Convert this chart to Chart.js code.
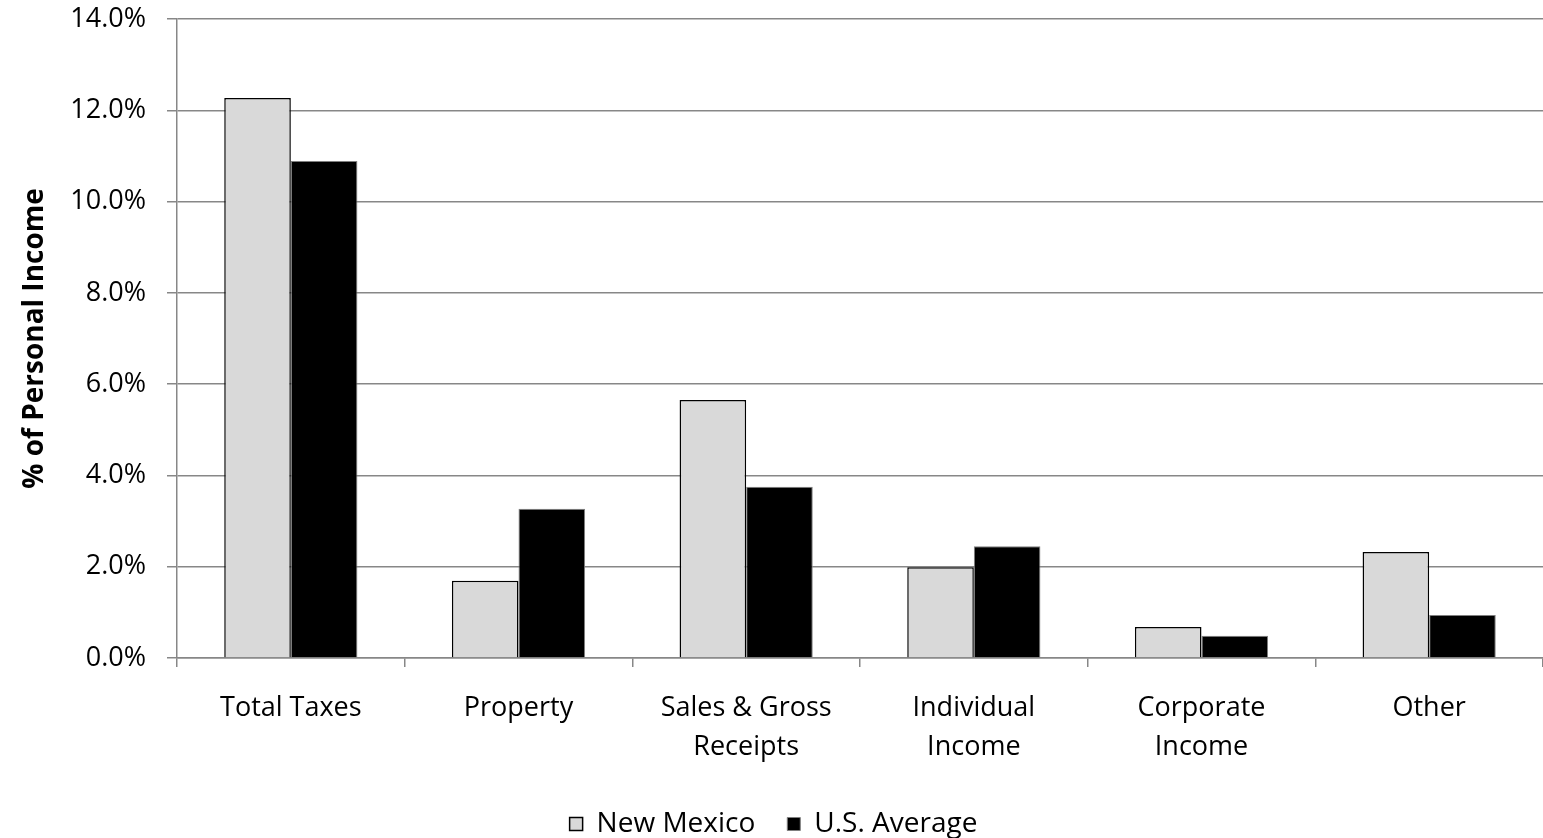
<!DOCTYPE html>
<html>
<head>
<meta charset="utf-8">
<script src="https://cdn.jsdelivr.net/npm/chart.js@4/dist/chart.umd.min.js"></script>
<style>
  html, body { margin: 0; padding: 0; background: #ffffff; }
  #wrap { width: 1543px; height: 838px; }
</style>
</head>
<body>
<div id="wrap"><canvas id="taxChart"></canvas></div>
<script>
// Tax burden as share of personal income
const categories = [
  "Total Taxes",
  "Property",
  ["Sales & Gross", "Receipts"],
  ["Individual", "Income"],
  ["Corporate", "Income"],
  "Other",
];
const newMexico = [12.27, 1.69, 5.65, 1.99, 0.68, 2.32];
const usAverage = [10.89, 3.27, 3.75, 2.45, 0.49, 0.94];
const yTicks = [0, 2, 4, 6, 8, 10, 12, 14];

const fontFamily = "'Open Sans', 'Noto Sans', sans-serif";
const gridColor = "#878787";

const ctx = document.getElementById("taxChart").getContext("2d");
const taxChart = new Chart(ctx, {
  type: "bar",
  data: {
    labels: categories,
    datasets: [
      {
        label: "New Mexico",
        data: newMexico,
        backgroundColor: "#d9d9d9",
        borderColor: "#000000",
        borderWidth: 1.5,
      },
      {
        label: "U.S. Average",
        data: usAverage,
        backgroundColor: "#000000",
        borderColor: "#7f7f7f",
        borderWidth: 1,
      },
    ],
  },
  options: {
    responsive: true,
    maintainAspectRatio: false,
    animation: false,
    layout: {
      padding: { top: 0, right: 0, left: 4, bottom: -10 },
    },
    datasets: {
      bar: {
        categoryPercentage: 0.585,
        barPercentage: 1.0,
      },
    },
    plugins: {
      tooltip: { enabled: false },
      legend: {
        position: "bottom",
        labels: {
          color: "#000000",
          font: { family: fontFamily, size: 28 },
          boxWidth: 13,
          boxHeight: 13,
          padding: 32,
        },
      },
    },
    scales: {
      x: {
        offset: true,
        afterFit: (scale) => {
          scale.height = 120;
        },
        grid: {
          offset: true,
          drawOnChartArea: false,
          drawTicks: true,
          tickLength: 9,
          color: gridColor,
          lineWidth: 1.5,
        },
        border: { color: gridColor, width: 1.5 },
        ticks: {
          color: "#000000",
          maxRotation: 0,
          autoSkip: false,
          padding: 22,
          font: { family: fontFamily, size: 27, lineHeight: 1.444 },
        },
      },
      y: {
        min: 0,
        max: 14,
        afterBuildTicks: (axis) => {
          axis.ticks = yTicks.map((v) => ({ value: v }));
        },
        afterFit: (scale) => {
          scale.width = 173;
          // keep the plot top where the reference has it
          scale.paddingTop = 19;
          scale.paddingBottom = 0;
        },
        grid: {
          color: gridColor,
          lineWidth: 1.5,
          drawTicks: true,
          tickLength: 10,
        },
        border: { color: gridColor, width: 1.5 },
        ticks: {
          color: "#000000",
          padding: 21,
          font: { family: fontFamily, size: 27 },
          callback: (v) => v.toFixed(1) + "%",
        },
        title: {
          display: true,
          text: "% of Personal Income",
          color: "#000000",
          font: { family: fontFamily, size: 28, weight: "bold" },
          padding: { top: 14, bottom: 10 },
        },
      },
    },
  },
});
</script>
</body>
</html>
